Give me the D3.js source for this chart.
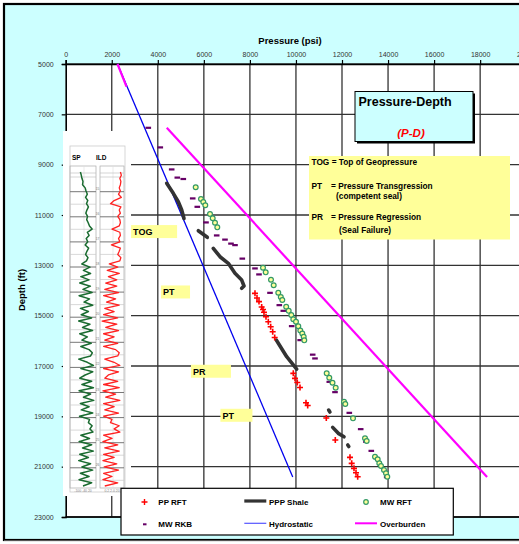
<!DOCTYPE html>
<html>
<head>
<meta charset="utf-8">
<script src="https://cdn.jsdelivr.net/npm/d3@7"></script>
<style>
  html, body { margin: 0; padding: 0; background: #fff; }
  svg { display: block; font-family: "Liberation Sans", Arial, sans-serif; }
</style>
</head>
<body>
<svg id="chart" width="519" height="544"></svg>
<script>
// ---- axis ticks ----
const pressureTicks = [0, 2000, 4000, 6000, 8000, 10000, 12000, 14000, 16000, 18000, 20000];
const depthTicks = [5000, 7000, 9000, 11000, 13000, 15000, 17000, 19000, 21000, 23000];

// ---- series: [pressure psi, depth ft] ----
const ppRft = [
  [8221, 14113], [8308, 14299], [8395, 14442], [8512, 14657], [8569, 14756], [8612, 14864],
  [8699, 15042], [8799, 15241], [8903, 15440], [8990, 15639], [9077, 15869],
  [9885, 17292], [9958, 17490], [10058, 17657], [10176, 17856],
  [10436, 18460], [10510, 18571], [11318, 19068], [11709, 19942],
  [12347, 20630], [12421, 20868], [12521, 21067], [12608, 21242], [12681, 21401]
];

const mwRft = [
  [5646, 9900], [5876, 10365], [5976, 10484], [6063, 10615], [6267, 10961], [6384, 11132],
  [6484, 11307], [6584, 11490],
  [8569, 13095], [8686, 13278], [8916, 13572], [9033, 13790], [9233, 14089], [9342, 14259],
  [9407, 14379], [9576, 14645], [9685, 14808], [9798, 14975], [9885, 15142], [10002, 15241],
  [10102, 15420], [10189, 15591], [10276, 15710], [10336, 15837], [10362, 15980],
  [11335, 17292], [11448, 17466], [11587, 17665], [11726, 17864], [12087, 18420], [12143, 18512],
  [12478, 19080], [12999, 19875], [13072, 19982], [13433, 20606], [13550, 20709], [13620, 20868],
  [13693, 20975], [13824, 21135], [13911, 21266], [13967, 21401]
];

const mwRkb = [
  [3587, 7531], [4108, 8310], [4603, 9185], [4847, 9510], [5107, 9566], [5516, 10337],
  [5715, 10671], [6093, 11291], [6558, 11808], [6918, 11974], [7179, 12133], [7353, 12193],
  [7670, 12729], [8221, 13119], [8395, 13357], [8873, 14089], [9277, 14578], [9450, 14804],
  [9815, 15412], [10184, 15968], [10727, 16545], [10827, 16696], [11448, 17626], [11696, 18035],
  [12317, 18858], [12812, 19505], [13042, 20010], [13272, 20368], [13489, 20658], [13941, 21413]
];

const pppShale = [
  [[4386, 9741], [4673, 10138], [4890, 10472], [5038, 10802], [5138, 11140]],
  [[5759, 11625], [6150, 11887]],
  [[6410, 12324], [6701, 12658], [7062, 12920], [7353, 13318], [7644, 13584], [7744, 13822], [7644, 13914]],
  [[9146, 15968], [9598, 16632], [10032, 17121]],
  [[11420, 18750], [11475, 18830]],
  [[11596, 19438], [11839, 19676], [12087, 19811]],
  [[12250, 20140], [12295, 20200]]
];

const hydrostatic = [[2250, 5000], [9860, 21410]];
const overburden = [
  [[2250, 5000], [2640, 5900]],
  [[4390, 7530], [18300, 21410]]
];

// ---- well log traces (SP in mV, ILD in ohm-m), sampled top to bottom ----
const spMv = [
  -52, -48, -45, -40, -42,
  -30, -26, -20, -28, -18, -24, -15, -22, -27, -19, -23, -16,
  -10, 2, -20, -12,
  -25, -18, -30, -14, -22, -28, -17, -24,
  -45, -8, -38, -5, -50, -12,
  -55, -6, -40, 2, -58, -10, -35, 5, -52, -15, -48, 0, -60, -8, -42, 4, -55, -20, -45, -2, -50,
  -12, 3, -5,
  -60, -20, 8, -50, 5, -30,
  -55, 0, -45, 8, -58, -5, -38, 10, -52, -12, -48, 5, -56, -10,
  -15, 2, -8, 6,
  -50, -10, -58, 0, -42, 8, -55, -15, -60, -5, -45, 5, -52, -12, -58, 0, -40
];
const ildOhm = [
  10, 12, 9, 11, 10,
  8, 10, 7, 12, 3, 1.5, 11, 8, 10, 6, 9, 10,
  8, 2, 9, 10,
  7, 9, 1.8, 10, 8, 6, 11, 9,
  1.2, 6, 0.8, 8, 1, 5,
  0.6, 5, 0.5, 7, 0.4, 4, 0.7, 8, 0.5, 3, 0.4, 6, 0.3, 5, 0.6, 7, 0.4, 3, 0.5, 6, 0.4,
  4, 8, 6,
  0.5, 3, 9, 0.4, 7, 1,
  0.5, 6, 0.4, 8, 0.35, 4, 0.6, 9, 0.4, 3, 0.5, 7, 0.4, 2,
  1.5, 8, 3, 9,
  0.4, 2, 0.35, 6, 0.5, 8, 0.4, 3, 0.35, 5, 0.45, 7, 0.4, 2, 0.35, 6, 0.5
];
const logDepthLabels = ["15", "16", "17", "18", "19", "20", "21", "22", "23", "24", "25", "26"];

// ---- legend and notes ----
const legendItems = [
  { label: "PP RFT", kind: "cross" },
  { label: "PPP Shale", kind: "shale" },
  { label: "MW RFT", kind: "circle" },
  { label: "MW RKB", kind: "dash" },
  { label: "Hydrostatic", kind: "hydro" },
  { label: "Overburden", kind: "over" }
];
const notes = [
  { text: "TOG", p: 2840, d: 11400, w: 46 },
  { text: "PT", p: 4140, d: 13800, w: 29 },
  { text: "PR", p: 5440, d: 16950, w: 40 },
  { text: "PT", p: 6720, d: 18700, w: 32 }
];

const svg = d3.select("#chart");
const W = 519, H = 544;

const x = d3.scaleLinear().domain([0, 20000]).range([65.7, 526.2]);
const y = d3.scaleLinear().domain([5000, 23000]).range([64, 517]);

// background and frame
svg.append("rect").attr("x", 0).attr("y", 0).attr("width", W).attr("height", H).attr("fill", "#fff");
svg.append("rect").attr("x", 4).attr("y", 4).attr("width", W + 20).attr("height", 536)
  .attr("fill", "#ccffff").attr("stroke", "#000").attr("stroke-width", 2.2);
svg.append("line").attr("x1", 4).attr("x2", W).attr("y1", 540.5).attr("y2", 540.5)
  .attr("stroke", "#555").attr("stroke-width", 1.2);

// plot area
svg.append("rect").attr("x", x(0)).attr("y", y(5000))
  .attr("width", x(20000) - x(0)).attr("height", y(23000) - y(5000)).attr("fill", "#fff");

// gridlines
const grid = svg.append("g").attr("stroke", "#333").attr("stroke-width", 1.3);
grid.selectAll(".vg").data(pressureTicks.slice(1)).join("line")
  .attr("x1", d => x(d)).attr("x2", d => x(d)).attr("y1", y(5000)).attr("y2", y(23000));
grid.selectAll(".hg").data(depthTicks).join("line")
  .attr("x1", x(0)).attr("x2", x(20000)).attr("y1", d => y(d)).attr("y2", d => y(d));

// axes
const topAxis = svg.append("g").attr("transform", `translate(0,${y(5000)})`)
  .call(d3.axisTop(x).tickValues(pressureTicks).tickSize(4).tickPadding(3).tickFormat(d3.format("d")));
const leftAxis = svg.append("g").attr("transform", `translate(${x(0)},0)`)
  .call(d3.axisLeft(y).tickValues(depthTicks).tickSize(4).tickPadding(8).tickFormat(d3.format("d")));
[topAxis, leftAxis].forEach(g => {
  g.select(".domain").attr("stroke", "#000").attr("stroke-width", 1.6);
  g.selectAll(".tick line").attr("stroke", "#000").attr("stroke-width", 1.2);
  g.selectAll(".tick text").attr("font-size", 7).attr("fill", "#333")
    .attr("font-family", "\"Liberation Sans\", Arial, sans-serif");
});
svg.append("line").attr("x1", x(0)).attr("x2", x(20000)).attr("y1", y(23000)).attr("y2", y(23000))
  .attr("stroke", "#000").attr("stroke-width", 1.6);

// axis titles
svg.append("text").attr("x", 290).attr("y", 44).attr("text-anchor", "middle")
  .attr("font-size", 9.5).attr("font-weight", "bold").attr("fill", "#000").text("Pressure (psi)");
svg.append("text").attr("transform", "translate(25,290) rotate(-90)").attr("text-anchor", "middle")
  .attr("font-size", 9.5).attr("font-weight", "bold").attr("fill", "#000").text("Depth (ft)");

const line = d3.line().x(d => x(d[0])).y(d => y(d[1]));

// hydrostatic and overburden gradients
svg.append("path").datum(hydrostatic).attr("d", line)
  .attr("fill", "none").attr("stroke", "#0000ee").attr("stroke-width", 1.3);
svg.selectAll(".ob").data(overburden).join("path").attr("d", line)
  .attr("fill", "none").attr("stroke", "#ff00ff").attr("stroke-width", 2.2);

// shale pore pressure trend
svg.selectAll(".shale").data(pppShale).join("path").attr("d", line)
  .attr("fill", "none").attr("stroke", "#333").attr("stroke-width", 3.6)
  .attr("stroke-linecap", "round").attr("stroke-linejoin", "round");

// mud weight (RKB)
svg.selectAll(".rkb").data(mwRkb).join("rect")
  .attr("x", d => x(d[0]) - 2.8).attr("y", d => y(d[1]) - 1).attr("width", 5.6).attr("height", 2.2)
  .attr("fill", "#660066");

// RFT mud weight
svg.selectAll(".mwrft").data(mwRft).join("circle")
  .attr("cx", d => x(d[0])).attr("cy", d => y(d[1])).attr("r", 2.4)
  .attr("fill", "#ffff99").attr("stroke", "#339966").attr("stroke-width", 1.2);

// RFT pore pressure
const crossPath = "M-3,0H3M0,-3V3";
svg.selectAll(".pprft").data(ppRft).join("path")
  .attr("transform", d => `translate(${x(d[0])},${y(d[1])})`).attr("d", crossPath)
  .attr("stroke", "#ff0000").attr("stroke-width", 1.6).attr("fill", "none");

// ---- well log panel ----
const logG = svg.append("g");
logG.append("rect").attr("x", 63).attr("y", 131).attr("width", 68).attr("height", 365).attr("fill", "#fff");
logG.append("rect").attr("x", 70).attr("y", 146).attr("width", 55).attr("height", 346)
  .attr("fill", "none").attr("stroke", "#ccc").attr("stroke-width", 0.8);
logG.append("text").attr("x", 72).attr("y", 160).attr("font-size", 6.5).attr("font-weight", "bold").text("SP");
logG.append("text").attr("x", 96).attr("y", 160).attr("font-size", 6.5).attr("font-weight", "bold").text("ILD");

const spX = d3.scaleLinear().domain([-100, 20]).range([70, 96]);
const ildX = d3.scaleLog().domain([0.2, 20]).range([100, 124]);
const logY = d3.scaleLinear().domain([0, spMv.length - 1]).range([172, 486]);

[[70, 96], [100, 124]].forEach(([a, b]) => {
  logG.append("rect").attr("x", a).attr("y", 166).attr("width", b - a).attr("height", 322)
    .attr("fill", "none").attr("stroke", "#aaa").attr("stroke-width", 0.7);
  logG.append("line").attr("x1", (a + b) / 2 + 1).attr("x2", (a + b) / 2 + 1).attr("y1", 166).attr("y2", 488)
    .attr("stroke", "#ddd").attr("stroke-width", 0.6);
  logG.append("line").attr("x1", a).attr("x2", b).attr("y1", 173).attr("y2", 173).attr("stroke", "#bbb").attr("stroke-width", 0.6);
  logG.append("line").attr("x1", a).attr("x2", b).attr("y1", 177).attr("y2", 177).attr("stroke", "#bbb").attr("stroke-width", 0.6);
});
// depth lines across both tracks
logDepthLabels.forEach((lab, i) => {
  const yy = 191.7 + i * 25.1;
  [[70, 96], [100, 124]].forEach(([a, b]) => {
    logG.append("line").attr("x1", a).attr("x2", b).attr("y1", yy).attr("y2", yy)
      .attr("stroke", "#777").attr("stroke-width", 1);
    logG.append("line").attr("x1", a).attr("x2", b).attr("y1", yy + 12.5).attr("y2", yy + 12.5)
      .attr("stroke", "#c8c8c8").attr("stroke-width", 0.7);
  });
  logG.append("text").attr("x", 97.5).attr("y", yy - 2).attr("font-size", 3.2).attr("fill", "#777")
    .attr("text-anchor", "middle").text(lab);
});

logG.append("path").datum(spMv)
  .attr("d", d3.line().x(d => spX(d)).y((d, i) => logY(i)))
  .attr("fill", "none").attr("stroke", "#1a6b30").attr("stroke-width", 1.5)
  .attr("stroke-linejoin", "round");
logG.append("path").datum(ildOhm)
  .attr("d", d3.line().x(d => ildX(d)).y((d, i) => logY(i)))
  .attr("fill", "none").attr("stroke", "#ff2222").attr("stroke-width", 1.3)
  .attr("stroke-linejoin", "round");
logG.append("text").attr("x", 83).attr("y", 491.5).attr("font-size", 3.4).attr("fill", "#888")
  .attr("text-anchor", "middle").text("-100   -40   20");
logG.append("text").attr("x", 112).attr("y", 491.5).attr("font-size", 3.4).attr("fill", "#888")
  .attr("text-anchor", "middle").text("0.2   2.0   20");

// ---- annotation tags ----
const noteG = svg.selectAll(".note").data(notes).join("g")
  .attr("transform", d => `translate(${x(d.p)},${y(d.d)})`);
noteG.append("rect").attr("x", 0).attr("y", 0).attr("width", d => d.w).attr("height", 13).attr("fill", "#ffff99");
noteG.append("text").attr("x", 2).attr("y", 10).attr("font-size", 9).attr("font-weight", "bold")
  .attr("fill", "#000").text(d => d.text);

// ---- title box ----
svg.append("rect").attr("x", 357).attr("y", 93.5).attr("width", 118).attr("height", 50).attr("fill", "#000");
svg.append("rect").attr("x", 355).attr("y", 91.5).attr("width", 118).attr("height", 50)
  .attr("fill", "#ccffff").attr("stroke", "#000").attr("stroke-width", 1);
svg.append("text").attr("x", 358.5).attr("y", 106).attr("font-size", 12.5).attr("font-weight", "bold")
  .attr("fill", "#000").text("Pressure-Depth");
svg.append("text").attr("x", 411).attr("y", 137).attr("text-anchor", "middle").attr("font-size", 11.5)
  .attr("font-weight", "bold").attr("font-style", "italic").attr("fill", "#ff0000").text("(P-D)");

// ---- definitions box ----
const defG = svg.append("g").attr("font-size", 8.3).attr("font-weight", "bold").attr("fill", "#000");
defG.append("rect").attr("x", 309).attr("y", 156).attr("width", 201).attr("height", 83.5).attr("fill", "#ffff99");
defG.append("text").attr("x", 311.5).attr("y", 165).text("TOG = Top of Geopressure");
defG.append("text").attr("x", 311.5).attr("y", 188.5).text("PT");
defG.append("text").attr("x", 331).attr("y", 188.5).text("= Pressure Transgression");
defG.append("text").attr("x", 336).attr("y", 198.5).text("(competent seal)");
defG.append("text").attr("x", 311.5).attr("y", 220).text("PR");
defG.append("text").attr("x", 331).attr("y", 220).text("= Pressure Regression");
defG.append("text").attr("x", 339).attr("y", 232.5).text("(Seal Failure)");

// ---- legend ----
const legG = svg.append("g");
legG.append("rect").attr("x", 121).attr("y", 488.3).attr("width", 332.3).attr("height", 46.7)
  .attr("fill", "#fff").attr("stroke", "#000").attr("stroke-width", 1.2);
const colX = [144.5, 255, 366];
const textX = [158.3, 269, 380];
const rowY = [502, 524.3];
legendItems.forEach((item, i) => {
  const cx = colX[i % 3], cy = rowY[Math.floor(i / 3)];
  const g = legG.append("g");
  if (item.kind === "cross") {
    g.append("path").attr("transform", `translate(${cx},${cy})`).attr("d", crossPath)
      .attr("stroke", "#ff0000").attr("stroke-width", 1.4);
  } else if (item.kind === "circle") {
    g.append("circle").attr("cx", cx).attr("cy", cy).attr("r", 2.3)
      .attr("fill", "#ffff99").attr("stroke", "#339966").attr("stroke-width", 1.2);
  } else if (item.kind === "dash") {
    g.append("rect").attr("x", cx - 1.5).attr("y", cy - 1).attr("width", 3.5).attr("height", 2).attr("fill", "#660066");
  } else {
    const col = item.kind === "shale" ? "#333" : item.kind === "hydro" ? "#5555ff" : "#ff00ff";
    const sw = item.kind === "shale" ? 3.2 : item.kind === "hydro" ? 1.2 : 2;
    const x0 = item.kind === "over" ? 355 : 244.3;
    g.append("line").attr("x1", x0).attr("x2", x0 + 22).attr("y1", cy - 1).attr("y2", cy - 1)
      .attr("stroke", col).attr("stroke-width", sw);
  }
  g.append("text").attr("x", textX[i % 3]).attr("y", cy + 3).attr("font-size", 8)
    .attr("font-weight", "bold").attr("fill", "#000").text(item.label);
});
</script>
</body>
</html>
